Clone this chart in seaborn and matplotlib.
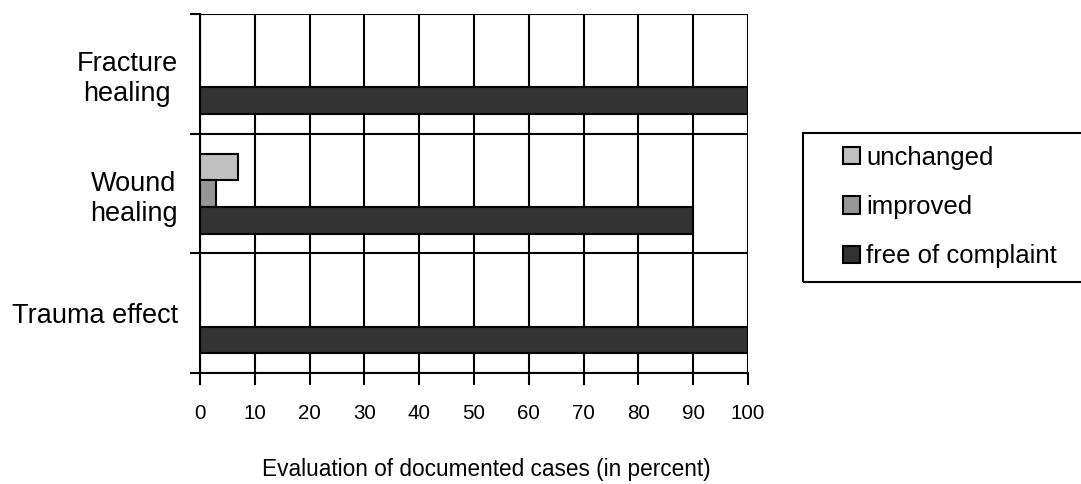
import matplotlib
matplotlib.use("Agg")
import matplotlib.pyplot as plt
from matplotlib.patches import Rectangle
import pandas as pd
import seaborn as sns

categories = ["Fracture\nhealing", "Wound\nhealing", "Trauma effect"]
statuses = ["unchanged", "improved", "free of complaint"]
unchanged = [0, 7, 0]
improved = [0, 3, 0]
free_of_complaint = [100, 90, 100]
colors = ["#c0c0c0", "#969696", "#333333"]
x_ticks = list(range(0, 101, 10))

rows = []
for i, cat in enumerate(categories):
    for status, vals in zip(statuses, [unchanged, improved, free_of_complaint]):
        rows.append({"category": cat, "status": status, "value": vals[i]})
df = pd.DataFrame(rows)

sns.set_theme(style="white")
plt.rcParams["font.family"] = ["Liberation Sans", "DejaVu Sans"]
plt.rcParams["text.color"] = "black"
plt.rcParams["xtick.color"] = "black"
plt.rcParams["ytick.color"] = "black"
plt.rcParams["axes.labelcolor"] = "black"

fig = plt.figure(figsize=(10.81, 4.84), dpi=100)
ax = fig.add_axes([0.185, 0.229, 0.507, 0.742])

sns.barplot(
    data=df,
    x="value",
    y="category",
    hue="status",
    order=categories,
    hue_order=statuses,
    palette=colors,
    orient="h",
    width=2 / 3,
    edgecolor="black",
    linewidth=1.5,
    saturation=1,
    ax=ax,
)

# legend handles from seaborn, redrawn at figure level
leg = ax.get_legend()
handles = leg.legend_handles
labels = [t.get_text() for t in leg.get_texts()]
leg.remove()
for h in handles:
    h.set_edgecolor("black")
    h.set_linewidth(1.5)

ax.set_xlim(0, 100)
ax.set_ylim(2.5, -0.5)
ax.set_xticks(x_ticks)
ax.set_xticklabels([str(t) for t in x_ticks], fontsize=14.8)
ax.set_yticks([-0.5, 0.5, 1.5, 2.5])
ax.set_yticklabels([])
ax.set_yticks([0, 1, 2], minor=True)
ax.set_yticklabels(categories, minor=True, fontsize=19.5, multialignment="center")
ax.tick_params(axis="y", which="major", length=7.5, width=1.5, color="black", left=True)
ax.tick_params(axis="y", which="minor", length=0, pad=16)
ax.tick_params(axis="x", length=8.5, width=1.5, color="black", bottom=True, pad=14)
ax.set_ylabel("")
ax.set_xlabel("Evaluation of documented cases (in percent)", fontsize=16.3, labelpad=26)
ax.xaxis.set_label_coords(0.523, -0.235)

ax.grid(True, which="major", color="black", linewidth=1.5)
ax.set_axisbelow(True)
for side in ["top", "right"]:
    ax.spines[side].set_visible(False)
for side in ["left", "bottom"]:
    ax.spines[side].set_color("black")
    ax.spines[side].set_linewidth(1.5)

fig.patches.append(
    Rectangle((803 / 1081, 1 - 282 / 484), 0.3, 149 / 484,
              transform=fig.transFigure, fill=False, edgecolor="black",
              linewidth=1.5, figure=fig)
)
fig.legend(
    handles, labels,
    loc="center left",
    bbox_to_anchor=(843 / 1081, 1 - 207 / 484),
    frameon=False,
    fontsize=18.5,
    borderpad=0,
    borderaxespad=0,
    handlelength=0.65,
    handleheight=0.65,
    handletextpad=0.25,
    labelspacing=0.98,
)

fig.savefig("out.png", dpi=100)
